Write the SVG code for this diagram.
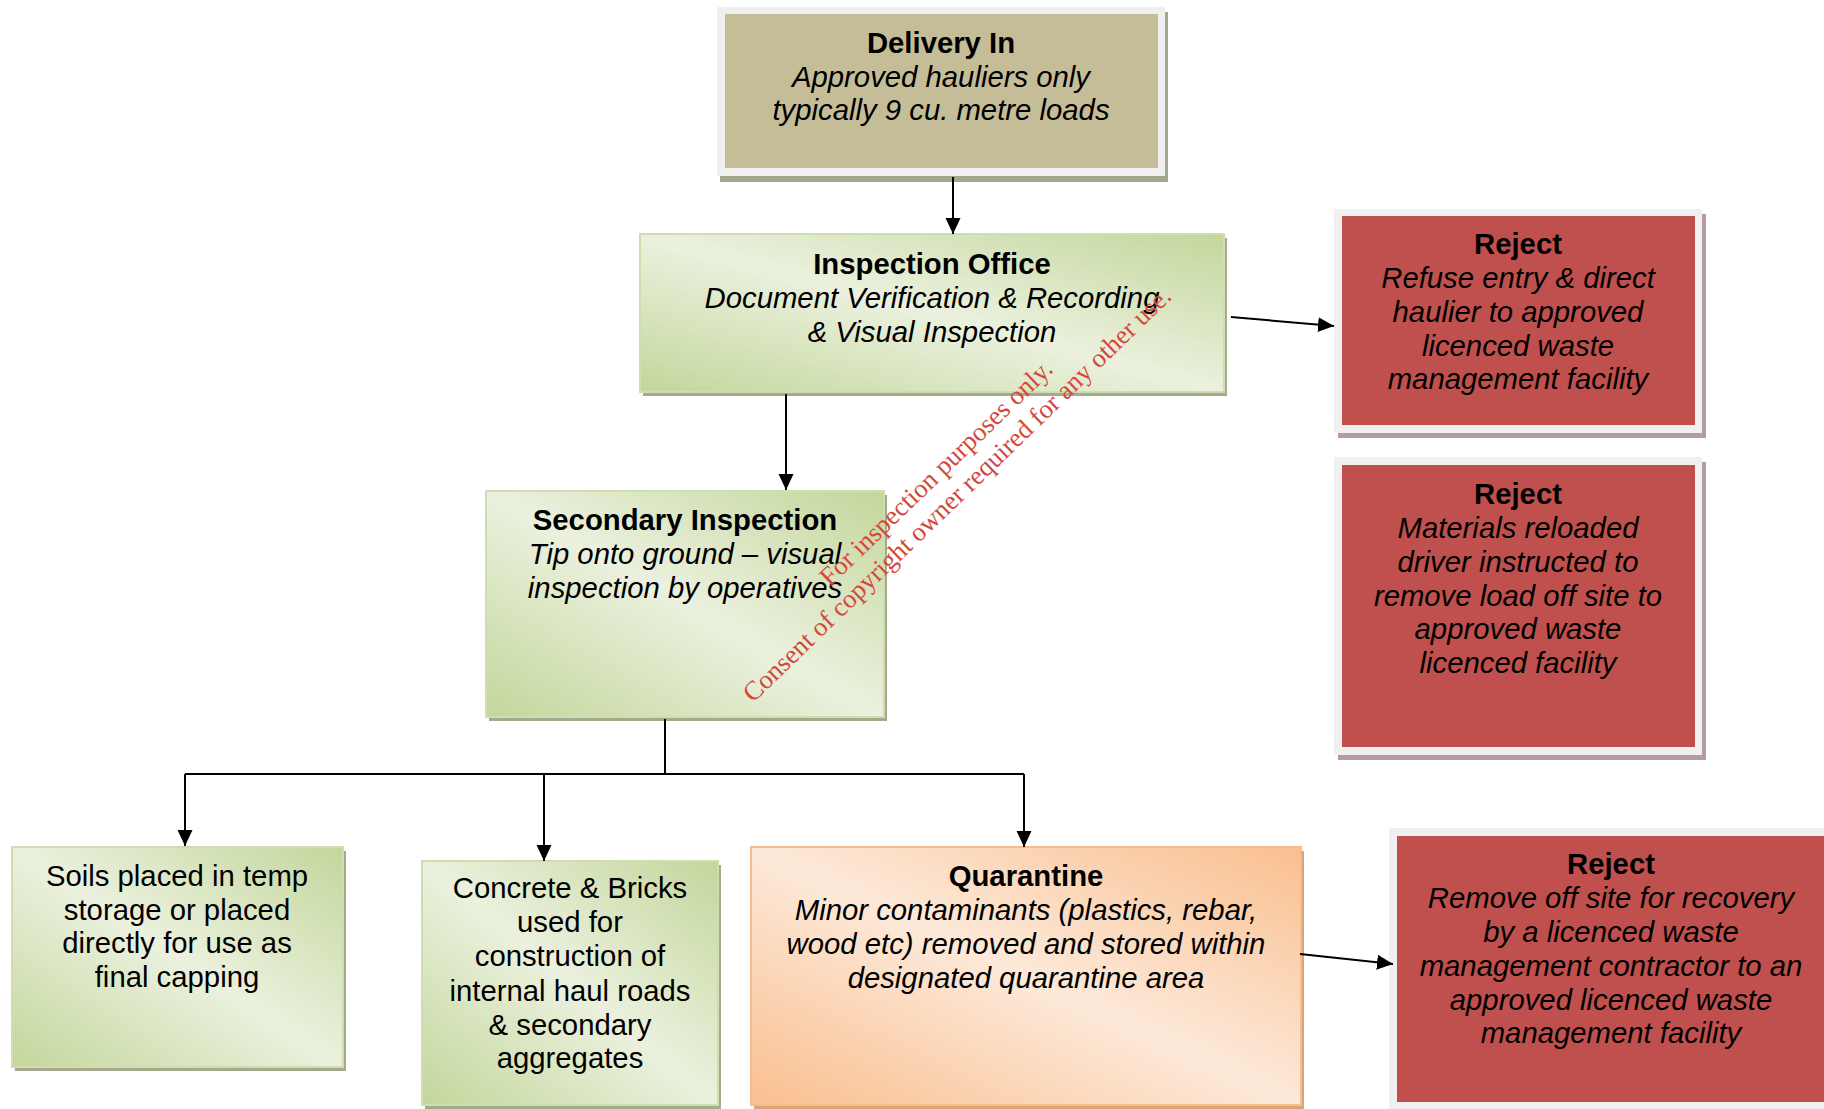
<svg xmlns="http://www.w3.org/2000/svg" width="1824" height="1109" viewBox="0 0 1824 1109">
<style>
.t{font-family:"Liberation Sans",Arial,sans-serif;font-size:29.3px;text-anchor:middle;fill:#000}
.b{font-weight:bold}
.i{font-style:italic}
.wm{font-family:"Liberation Serif","Times New Roman",serif;font-size:26.5px;fill:#d5473b;text-anchor:middle}
.frame{fill:#f0f0f0}
.red{fill:#c0504d}
.rsh{fill:#b69c9c}
.gsh{fill:#a5aa8d}
.osh{fill:#d6a57c}
.green{fill:url(#gGreen);stroke:#cfdeb0;stroke-width:2}
.orange{fill:url(#gOrange);stroke:#f7bb8c;stroke-width:2}
.conn{fill:none;stroke:#000;stroke-width:2}
</style>
<defs>
<linearGradient id="gGreen" x1="0" y1="1" x2="1" y2="0">
<stop offset="0" stop-color="#c3d69b"/>
<stop offset="0.5" stop-color="#ebf1de"/>
<stop offset="1" stop-color="#c3d69b"/>
</linearGradient>
<linearGradient id="gOrange" x1="0" y1="1" x2="1" y2="0">
<stop offset="0" stop-color="#f9bf8f"/>
<stop offset="0.5" stop-color="#fde9d9"/>
<stop offset="1" stop-color="#f9bf8f"/>
</linearGradient>
<marker id="arr" markerWidth="16" markerHeight="16" refX="16" refY="8" orient="auto" markerUnits="userSpaceOnUse">
<path d="M0,0.5 L16,8 L0,15.5 Z" fill="#000"/>
</marker>
</defs>

<g id="delivery">
<rect x="720" y="12" width="448" height="170" fill="#a3a88b"/>
<rect class="frame" x="717" y="7" width="448" height="169"/>
<rect x="725" y="14" width="433" height="154" fill="#c4bd97"/>
<text class="t b" x="941" y="53">Delivery In</text>
<text class="t i" x="941" y="87">Approved hauliers only</text>
<text class="t i" x="941" y="120">typically 9 cu. metre loads</text>
</g>

<g id="inspection">
<rect class="gsh" x="643" y="238" width="584" height="158"/>
<rect class="green" x="640" y="234" width="584" height="158"/>
<text class="t b" x="932" y="274">Inspection Office</text>
<text class="t i" x="932" y="308">Document Verification &amp; Recording</text>
<text class="t i" x="932" y="342">&amp; Visual Inspection</text>
</g>

<g id="secondary">
<rect class="gsh" x="489" y="495" width="398" height="226"/>
<rect class="green" x="486" y="491" width="398" height="226"/>
<text class="t b" x="685" y="530">Secondary Inspection</text>
<text class="t i" x="685" y="564">Tip onto ground – visual</text>
<text class="t i" x="685" y="598">inspection by operatives</text>
</g>

<g id="reject1">
<rect class="rsh" x="1338" y="214" width="368" height="224"/>
<rect class="frame" x="1334" y="209" width="368" height="224"/>
<rect class="red" x="1342" y="216" width="353" height="209"/>
<text class="t b" x="1518" y="254">Reject</text>
<text class="t i" x="1518" y="288">Refuse entry &amp; direct</text>
<text class="t i" x="1518" y="322">haulier to approved</text>
<text class="t i" x="1518" y="356">licenced waste</text>
<text class="t i" x="1518" y="389">management facility</text>
</g>

<g id="reject2">
<rect class="rsh" x="1338" y="462" width="368" height="298"/>
<rect class="frame" x="1334" y="457" width="368" height="298"/>
<rect class="red" x="1342" y="465" width="353" height="282"/>
<text class="t b" x="1518" y="504">Reject</text>
<text class="t i" x="1518" y="538">Materials reloaded</text>
<text class="t i" x="1518" y="572">driver instructed to</text>
<text class="t i" x="1518" y="606">remove load off site to</text>
<text class="t i" x="1518" y="639">approved waste</text>
<text class="t i" x="1518" y="673">licenced facility</text>
</g>

<g id="soils">
<rect class="gsh" x="15" y="851" width="331" height="220"/>
<rect class="green" x="12" y="847" width="331" height="220"/>
<text class="t" x="177" y="886">Soils placed in temp</text>
<text class="t" x="177" y="920">storage or placed</text>
<text class="t" x="177" y="953">directly for use as</text>
<text class="t" x="177" y="987">final capping</text>
</g>

<g id="concrete">
<rect class="gsh" x="425" y="865" width="296" height="244"/>
<rect class="green" x="422" y="861" width="296" height="244"/>
<text class="t" x="570" y="898">Concrete &amp; Bricks</text>
<text class="t" x="570" y="932">used for</text>
<text class="t" x="570" y="966">construction of</text>
<text class="t" x="570" y="1001">internal haul roads</text>
<text class="t" x="570" y="1035">&amp; secondary</text>
<text class="t" x="570" y="1068">aggregates</text>
</g>

<g id="quarantine">
<rect class="osh" x="754" y="851" width="550" height="258"/>
<rect class="orange" x="751" y="847" width="550" height="258"/>
<text class="t b" x="1026" y="886">Quarantine</text>
<text class="t i" x="1026" y="920">Minor contaminants (plastics, rebar,</text>
<text class="t i" x="1026" y="954">wood etc) removed and stored within</text>
<text class="t i" x="1026" y="988">designated quarantine area</text>
</g>

<g id="reject3">
<rect class="frame" x="1389" y="828" width="450" height="290"/>
<rect class="red" x="1397" y="836" width="440" height="266"/>
<text class="t b" x="1611" y="874">Reject</text>
<text class="t i" x="1611" y="908">Remove off site for recovery</text>
<text class="t i" x="1611" y="942">by a licenced waste</text>
<text class="t i" x="1611" y="976">management contractor to an</text>
<text class="t i" x="1611" y="1010">approved licenced waste</text>
<text class="t i" x="1611" y="1043">management facility</text>
</g>

<g id="connectors">
<path class="conn" d="M953,177 V234" marker-end="url(#arr)"/>
<path class="conn" d="M786,394 V490" marker-end="url(#arr)"/>
<path class="conn" d="M1231,317 L1334,326" marker-end="url(#arr)"/>
<path class="conn" d="M665,719 V774"/>
<path class="conn" d="M185,774 H1024"/>
<path class="conn" d="M185,774 V846" marker-end="url(#arr)"/>
<path class="conn" d="M544,774 V861" marker-end="url(#arr)"/>
<path class="conn" d="M1024,774 V847" marker-end="url(#arr)"/>
<path class="conn" d="M1300,954 L1393,964" marker-end="url(#arr)"/>
</g>

<g id="watermark" transform="translate(942,479) rotate(-44)">
<text class="wm" x="0" y="0">For inspection purposes only.</text>
<text class="wm" x="0" y="30">Consent of copyright owner required for any other use.</text>
</g>
</svg>
